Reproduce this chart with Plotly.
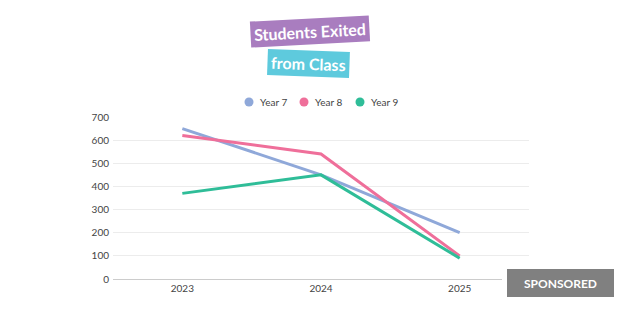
import plotly.graph_objects as go

years = ["2023", "2024", "2025"]
year7 = [650, 450, 200]
year8 = [620, 540, 100]
year9 = [370, 450, 90]
series_names = ["Year 7", "Year 8", "Year 9"]
colors = ["#8fa8d9", "#ef6f9a", "#2fbd98"]
y_ticks = [0, 100, 200, 300, 400, 500, 600, 700]

FONT = "Lato"
L, R, T, B = 113, 91, 117, 51
PW, PH = 620 - L - R, 330 - T - B


def px(x):
    return (x - L) / PW


def py(y):
    return (330 - B - y) / PH


fig = go.Figure()
for name, vals, col in zip(series_names, [year7, year8, year9], colors):
    fig.add_trace(go.Scatter(x=years, y=vals, mode="lines", name=name,
                             line=dict(color=col, width=3), showlegend=False,
                             hoverinfo="skip"))

fig.update_layout(
    width=620, height=330,
    margin=dict(l=L, r=R, t=T, b=B),
    paper_bgcolor="white", plot_bgcolor="white",
    font=dict(family=FONT, size=10, color="#444"),
    showlegend=False,
    xaxis=dict(type="category", showgrid=False, showline=True, linecolor="#cccccc",
               linewidth=1, ticks="", tickfont=dict(size=10, color="#444"),
               range=[-0.5, 2.5], fixedrange=True),
    yaxis=dict(range=[0, 700], tickvals=y_ticks, showgrid=True, gridcolor="#ececec",
               zeroline=False, showline=False, ticks="", ticklabelstandoff=3,
               tickfont=dict(size=10, color="#444"), fixedrange=True),
)

# manual legend (circle markers + labels)
legend_cx = [249, 304, 360]
for name, col, cx in zip(series_names, colors, legend_cx):
    fig.add_shape(type="circle", xref="paper", yref="paper",
                  x0=px(cx - 4.5), x1=px(cx + 4.5), y0=py(102 + 4.5), y1=py(102 - 4.5),
                  fillcolor=col, line=dict(width=0))
    fig.add_annotation(text=name, xref="paper", yref="paper", x=px(cx + 9), y=py(102),
                       xanchor="left", yanchor="middle", showarrow=False,
                       font=dict(family=FONT, size=10, color="#444"))

fig.add_annotation(text="<b>Students Exited</b>", xref="paper", yref="paper",
                   x=px(309.5), y=py(32), xanchor="center", yanchor="middle",
                   showarrow=False, textangle=-3, bgcolor="#a97dbf",
                   borderpad=3, font=dict(family=FONT, size=16, color="white"))
fig.add_annotation(text="<b>from Class</b>", xref="paper", yref="paper",
                   x=px(308.5), y=py(63), xanchor="center", yanchor="middle",
                   showarrow=False, textangle=2, bgcolor="#5ecadd",
                   borderpad=3, font=dict(family=FONT, size=16, color="white"))

# sponsored badge
fig.add_shape(type="rect", xref="paper", yref="paper", layer="above",
              x0=px(502), x1=px(620), y0=py(300), y1=py(266),
              fillcolor="white", line=dict(width=0))
fig.add_shape(type="rect", xref="paper", yref="paper", layer="above",
              x0=px(507), x1=px(614), y0=py(297), y1=py(269),
              fillcolor="#808080", line=dict(width=0))
fig.add_annotation(text="<b>SPONSORED</b>", xref="paper", yref="paper",
                   x=px(560.5), y=py(283), xanchor="center", yanchor="middle",
                   showarrow=False, font=dict(family=FONT, size=12, color="white"))

fig.write_html("out.html")
